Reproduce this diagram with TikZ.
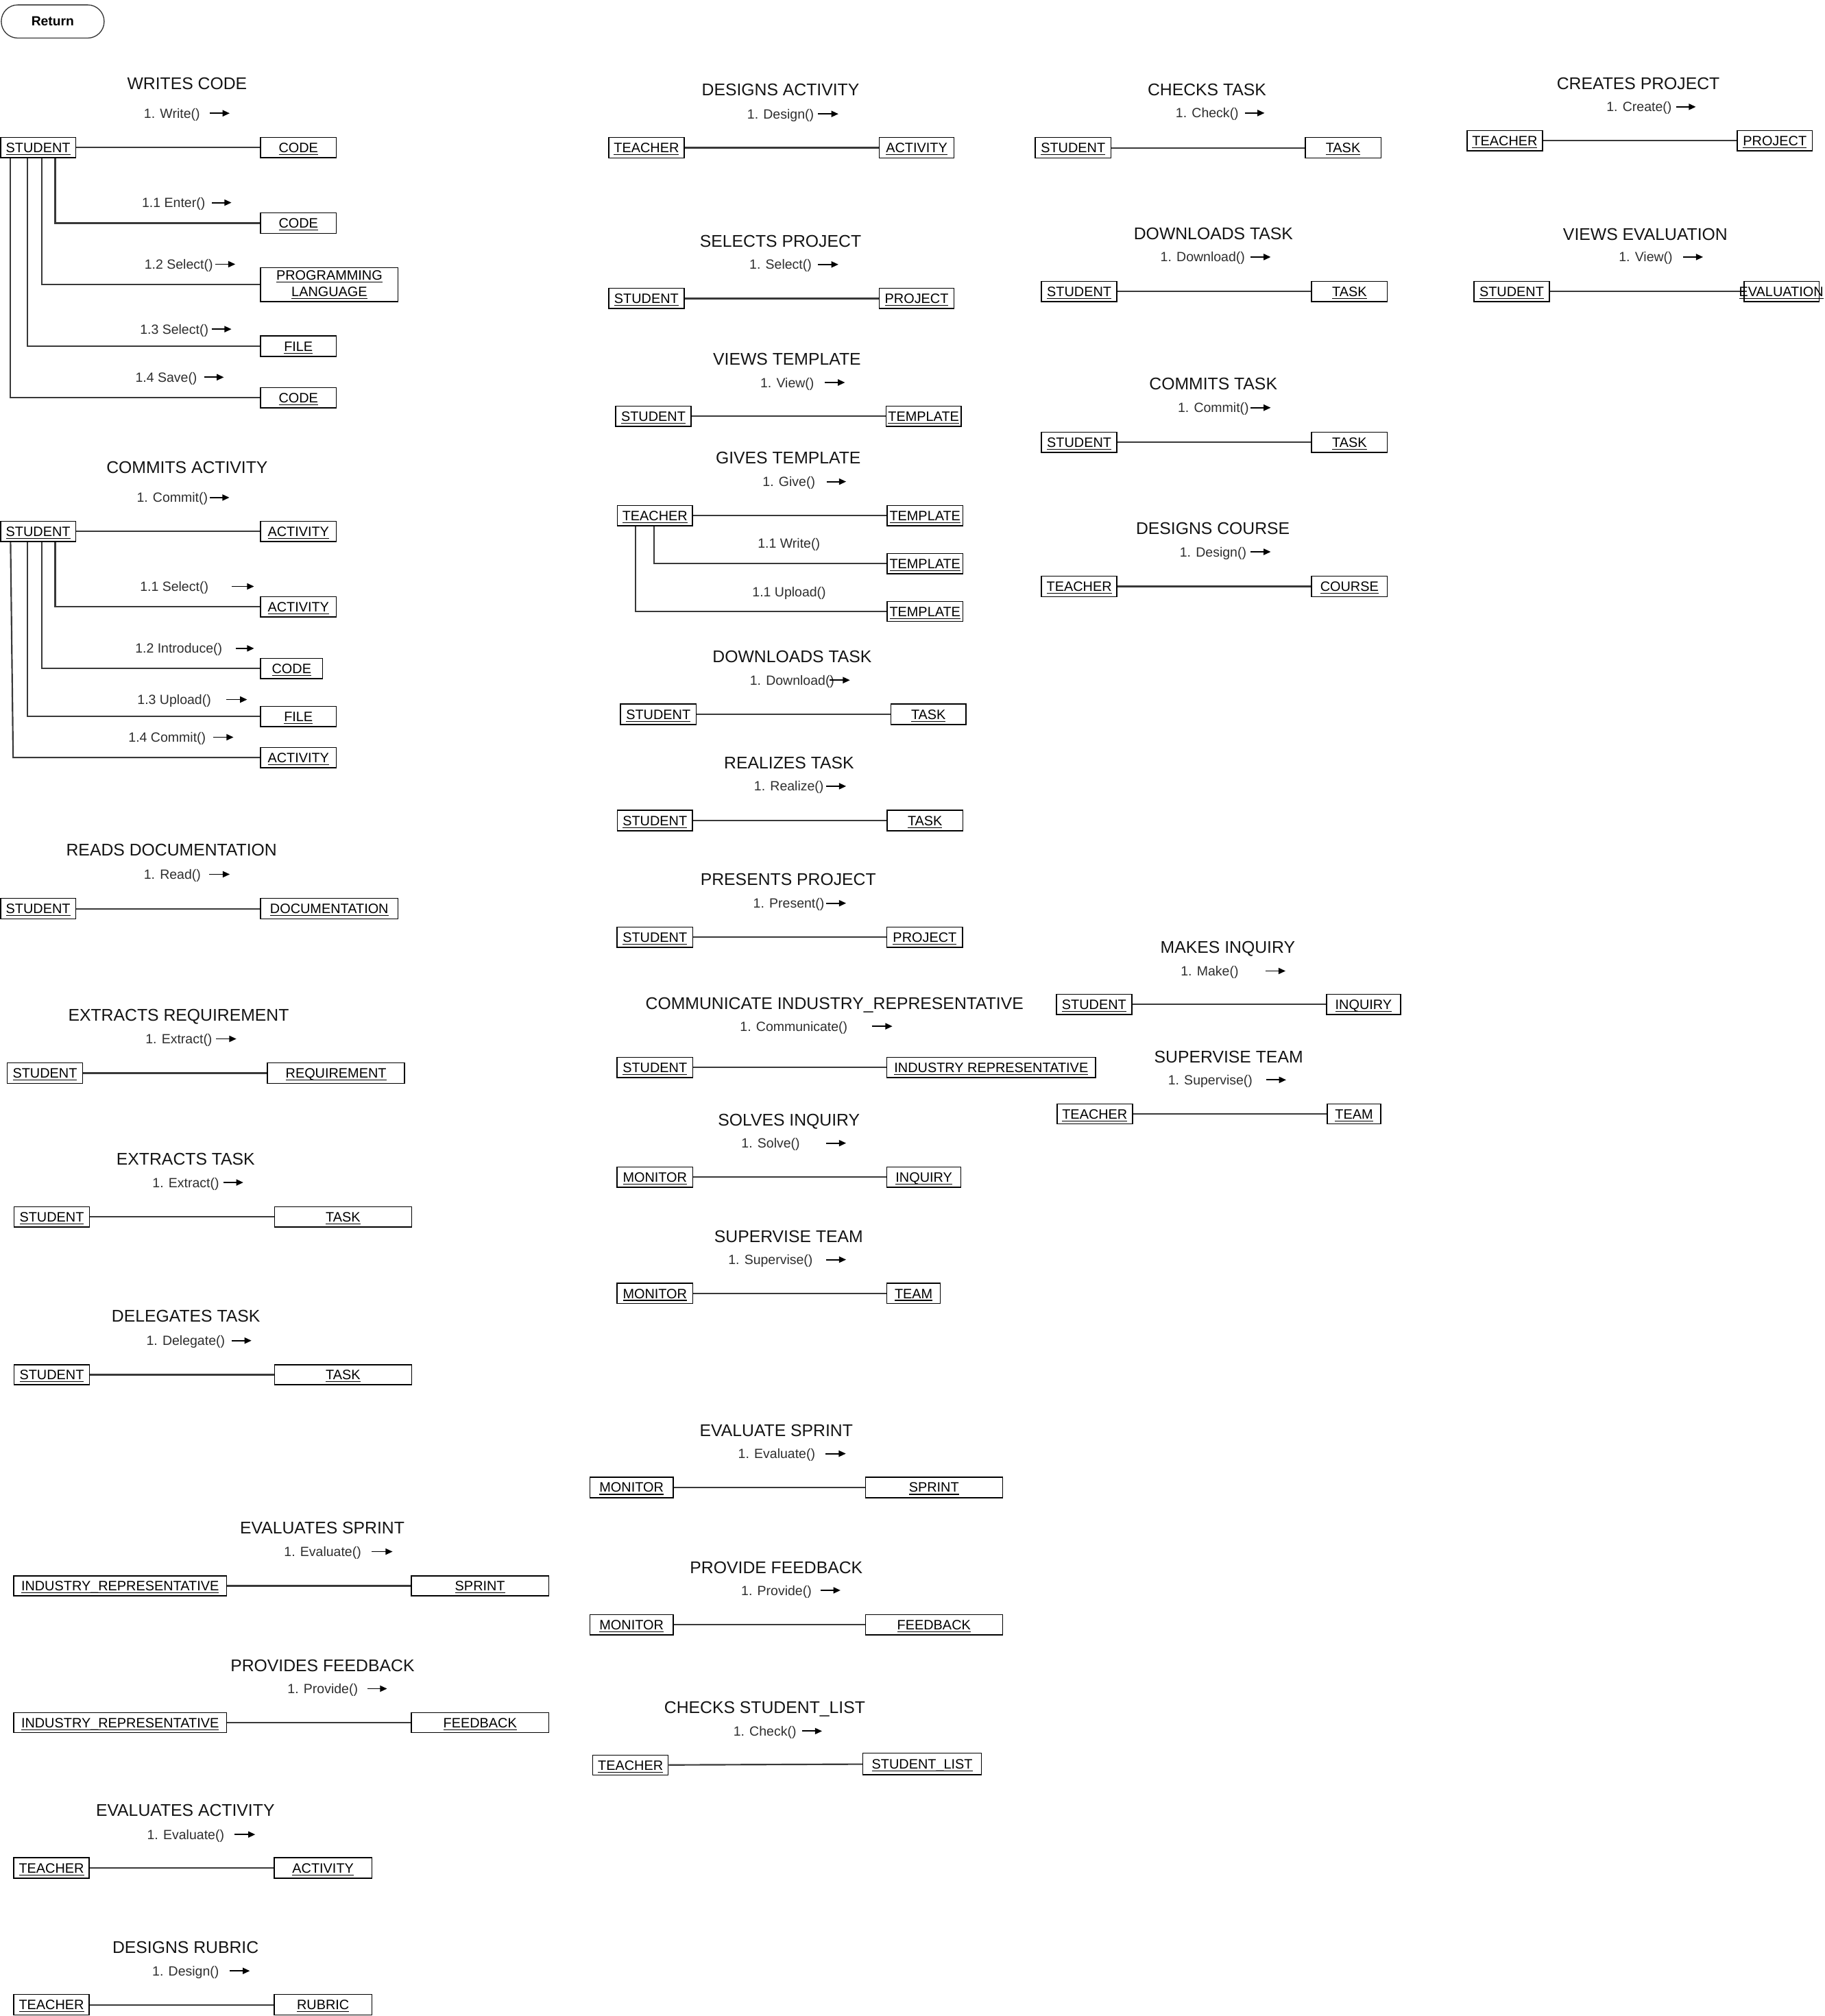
\documentclass[tikz,border=0pt]{standalone}
\usepackage{fontspec}
\setmainfont{Liberation Sans}
\usetikzlibrary{arrows.meta,calc}
\newcommand\ulx[1]{\setbox0=\hbox{#1}\rlap{\rule[-1.9pt]{\wd0}{0.6pt}}\box0}
\newcommand\nfont{\fontsize{10.6}{13}\selectfont}
\newcommand\tfont{\fontsize{13.2}{15}\selectfont}
\newcommand\mfont{\fontsize{10.4}{12}\selectfont}
% object box by corners
\newcommand\obj[6]{\node[objbox, minimum width={#4pt-#2pt}, minimum height={#5pt-#3pt}] (#1) at ({(#2+#4)/2},{(#3+#5)/2}) {\ulx{#6}};}
% title
\newcommand\ttlnode[4]{\node[ttlsty] (#1) at (#2,#3) {#4};}
% message label with arrow
\newcommand\msgl[6]{\node[msgsty] (#1) at (#2,#3) {#4}; \draw[marr] (#5,#3) -- (#6,#3);}
\begin{document}
\begin{tikzpicture}[x=1pt,y=-1pt,
  boxbase/.style={draw=black, line width=0.8pt, inner sep=0pt, font=\nfont, fill=white},
  objbox/.style={boxbase, text height=7.6pt, text depth=0pt},
  conn/.style={line width=1.15pt, draw=black!78},
  ttlsty/.style={font=\tfont, inner sep=0pt, text height=9.4pt, text depth=0pt, text=black!92},
  msgsty/.style={font=\mfont, inner sep=0pt, text height=7.5pt, text depth=0pt, text=black!82},
  marr/.style={line width=1pt, -{Triangle[length=5.5pt,width=4.8pt]}, black}]
\fill[white] (0,0) rectangle (1419,1568);
\useasboundingbox (0,0) rectangle (1419,1568);

% Return button
\node[draw=black!80, line width=0.7pt, rounded corners=12.8pt, minimum width=80pt, minimum height=25.8pt, inner sep=0pt, font=\bfseries\fontsize{10.3}{12}\selectfont] (ret) at (41,16.7) {Return};

% ===== WRITES CODE =====
\ttlnode{wcT}{145.5}{64.7}{WRITES CODE}
\msgl{wcM}{133.7}{88.1}{1. Write()}{163}{178.6}
\obj{wcS}{0.5}{106.9}{58.8}{122.7}{STUDENT}
\obj{wcC0}{202.7}{106.9}{261.4}{122.7}{CODE}
\draw[conn] (wcS) -- (wcC0);
\msgl{wcM1}{135}{157.6}{1.1 Enter()}{165}{180}
\obj{wcC1}{202.7}{165.6}{261.4}{181.5}{CODE}
\draw[conn] ($(wcS.south west)+(42.8,0)$) |- (wcC1.west);
\msgl{wcM2}{139}{205.5}{1.2 Select()}{167.3}{183}
\node[boxbase, align=center, minimum width=106.9pt, minimum height=26.4pt] (wcPL) at (256.15,221.4) {\ulx{PROGRAMMING}\\\ulx{LANGUAGE}};
\draw[conn] ($(wcS.south west)+(32.2,0)$) |- (wcPL.west);
\msgl{wcM3}{135.5}{256}{1.3 Select()}{164.5}{180}
\obj{wcF}{202.7}{261.3}{261.4}{277.3}{FILE}
\draw[conn] ($(wcS.south west)+(21.1,0)$) |- (wcF.west);
\msgl{wcM4}{129.3}{293.4}{1.4 Save()}{158.8}{174.1}
\obj{wcC4}{202.7}{301.4}{261.4}{317.2}{CODE}
\draw[conn] ($(wcS.south west)+(8.1,0)$) |- (wcC4.west);

% ===== COMMITS ACTIVITY =====
\ttlnode{caT}{145.5}{363.4}{COMMITS ACTIVITY}
\msgl{caM}{134}{387}{1. Commit()}{163.3}{178.4}
\obj{caS}{0.5}{405.5}{58.8}{421.3}{STUDENT}
\obj{caA0}{202.7}{405.5}{261.4}{421.3}{ACTIVITY}
\draw[conn] (caS) -- (caA0);
\msgl{caM1}{135.5}{456.1}{1.1 Select()}{180.4}{197.6}
\obj{caA1}{202.7}{464.1}{261.4}{479.8}{ACTIVITY}
\draw[conn] ($(caS.south west)+(42.8,0)$) |- (caA1.west);
\msgl{caM2}{139}{504.3}{1.2 Introduce()}{183.3}{197.6}
\obj{caC}{202.7}{512.1}{250.8}{527.7}{CODE}
\draw[conn] ($(caS.south west)+(32.2,0)$) |- (caC.west);
\msgl{caM3}{135.5}{544.1}{1.3 Upload()}{176}{192.2}
\obj{caF}{202.7}{549.4}{261.4}{565.1}{FILE}
\draw[conn] ($(caS.south west)+(21.1,0)$) |- (caF.west);
\msgl{caM4}{130}{573.4}{1.4 Commit()}{165.7}{181.6}
\obj{caA4}{202.7}{581.4}{261.4}{597}{ACTIVITY}
\draw[conn] ($(caS.south west)+(8.1,0)$) -- ($(caA4.west)+(-192.1,0)$) -- (caA4.west);

% ===== READS DOCUMENTATION =====
\ttlnode{rdT}{133.4}{661.1}{READS DOCUMENTATION}
\msgl{rdM}{134}{680}{1. Read()}{162.7}{178.7}
\obj{rdS}{0.5}{698.8}{58.8}{714.7}{STUDENT}
\obj{rdD}{202.7}{698.8}{309.4}{714.7}{DOCUMENTATION}
\draw[conn] (rdS) -- (rdD);

% ===== EXTRACTS REQUIREMENT =====
\ttlnode{erT}{138.9}{789.6}{EXTRACTS REQUIREMENT}
\msgl{erM}{139.1}{808}{1. Extract()}{168.2}{183.8}
\obj{erS}{5.5}{826.7}{64.3}{842.6}{STUDENT}
\obj{erR}{208}{826.7}{314.6}{842.6}{REQUIREMENT}
\draw[conn] (erS) -- (erR);

% ===== EXTRACTS TASK =====
\ttlnode{etT}{144.4}{901.3}{EXTRACTS TASK}
\msgl{etM}{144.5}{919.7}{1. Extract()}{173.7}{189.2}
\obj{etS}{11}{938.7}{69.5}{954.3}{STUDENT}
\obj{etK}{213.5}{938.7}{320.1}{954.3}{TASK}
\draw[conn] (etS) -- (etK);

% ===== DELEGATES TASK =====
\ttlnode{dtT}{144.6}{1023.7}{DELEGATES TASK}
\msgl{dtM}{144.4}{1042.7}{1. Delegate()}{180.2}{195.6}
\obj{dtS}{11}{1061.4}{69.5}{1077}{STUDENT}
\obj{dtK}{213.5}{1061.4}{320.1}{1077}{TASK}
\draw[conn] (dtS) -- (dtK);

% ===== EVALUATES SPRINT =====
\ttlnode{esT}{250.6}{1188.3}{EVALUATES SPRINT}
\msgl{esM}{250.9}{1206.8}{1. Evaluate()}{289}{305.3}
\obj{esI}{10.6}{1225.6}{176.2}{1241.2}{INDUSTRY\_REPRESENTATIVE}
\obj{esP}{319.8}{1225.6}{426.8}{1241.2}{SPRINT}
\draw[conn] (esI) -- (esP);

% ===== PROVIDES FEEDBACK =====
\ttlnode{pfT}{250.8}{1295.2}{PROVIDES FEEDBACK}
\msgl{pfM}{251}{1313.4}{1. Provide()}{285.7}{301}
\obj{pfI}{10.6}{1332}{176.2}{1347.6}{INDUSTRY\_REPRESENTATIVE}
\obj{pfF}{319.8}{1332}{426.8}{1347.6}{FEEDBACK}
\draw[conn] (pfI) -- (pfF);

% ===== EVALUATES ACTIVITY =====
\ttlnode{eaT}{144.1}{1408}{EVALUATES ACTIVITY}
\msgl{eaM}{144.4}{1426.8}{1. Evaluate()}{182.6}{198.5}
\obj{eaT2}{10.6}{1444.8}{69.4}{1460.9}{TEACHER}
\obj{eaA}{213.3}{1444.8}{289.1}{1460.9}{ACTIVITY}
\draw[conn] (eaT2) -- (eaA);

% ===== DESIGNS RUBRIC =====
\ttlnode{drT}{144.3}{1514.6}{DESIGNS RUBRIC}
\msgl{drM}{144.4}{1532.9}{1. Design()}{178.7}{194.3}
\obj{drT2}{10.6}{1551.2}{69.4}{1567.3}{TEACHER}
\obj{drR}{213.3}{1551.2}{289.1}{1567.3}{RUBRIC}
\draw[conn] (drT2) -- (drR);

% ===== MIDDLE COLUMN =====
\ttlnode{daT}{607}{69.9}{DESIGNS ACTIVITY}
\msgl{daM}{607}{88.6}{1. Design()}{636}{652}
\obj{daT2}{473.4}{107}{532}{122.8}{TEACHER}
\obj{daA}{683.7}{107}{742}{122.8}{ACTIVITY}
\draw[conn] (daT2) -- (daA);

\ttlnode{spT}{607}{187.4}{SELECTS PROJECT}
\msgl{spM}{607}{205.7}{1. Select()}{636}{652}
\obj{spS}{473.4}{224.3}{532}{240}{STUDENT}
\obj{spP}{683.7}{224.3}{742}{240}{PROJECT}
\draw[conn] (spS) -- (spP);

\ttlnode{vtT}{612}{279.2}{VIEWS TEMPLATE}
\msgl{vtM}{612.2}{297.5}{1. View()}{641.3}{657.1}
\obj{vtS}{478.8}{315.9}{537.4}{331.5}{STUDENT}
\obj{vtP}{689}{315.9}{747.5}{331.5}{TEMPLATE}
\draw[conn] (vtS) -- (vtP);

\ttlnode{gtT}{613}{356.2}{GIVES TEMPLATE}
\msgl{gtM}{613.5}{374.6}{1. Give()}{642.8}{658}
\obj{gtT2}{480}{393.3}{538.6}{408.8}{TEACHER}
\obj{gtP1}{690}{393.3}{748.7}{408.8}{TEMPLATE}
\draw[conn] (gtT2) -- (gtP1);
\node[msgsty] (gtM1) at (613.5,422.5) {1.1 Write()};
\obj{gtP2}{690}{430.6}{748.7}{446.3}{TEMPLATE}
\draw[conn] ($(gtT2.south west)+(29,0)$) |- (gtP2.west);
\node[msgsty] (gtM2) at (613.7,460.2) {1.1 Upload()};
\obj{gtP3}{690}{467.8}{748.7}{483.3}{TEMPLATE}
\draw[conn] ($(gtT2.south west)+(14.7,0)$) |- (gtP3.west);

\ttlnode{dmT}{616}{510.6}{DOWNLOADS TASK}
\msgl{dmM}{616}{529}{1. Download()}{645}{661}
\obj{dmS}{482.6}{547.5}{541.3}{563.6}{STUDENT}
\obj{dmK}{692.7}{547.5}{751.3}{563.6}{TASK}
\draw[conn] (dmS) -- (dmK);

\ttlnode{rtT}{613.6}{593.2}{REALIZES TASK}
\msgl{rtM}{613.5}{611.5}{1. Realize()}{642.4}{658}
\obj{rtS}{480}{630.3}{538.6}{646.2}{STUDENT}
\obj{rtK}{690}{630.3}{748.7}{646.2}{TASK}
\draw[conn] (rtS) -- (rtK);

\ttlnode{ppT}{613}{684}{PRESENTS PROJECT}
\msgl{ppM}{613.4}{702.5}{1. Present()}{642.6}{658}
\obj{ppS}{479.8}{721}{538.8}{736.8}{STUDENT}
\obj{ppP}{689.7}{721}{748.6}{736.8}{PROJECT}
\draw[conn] (ppS) -- (ppP);

\ttlnode{ciT}{649}{780.3}{COMMUNICATE INDUSTRY\_REPRESENTATIVE}
\msgl{ciM}{617.3}{798.2}{1. Communicate()}{678}{694}
\obj{ciS}{479.8}{822.5}{538.8}{838}{STUDENT}
\obj{ciI}{689.7}{822.5}{852}{838}{INDUSTRY REPRESENTATIVE}
\draw[conn] (ciS) -- (ciI);

\ttlnode{siT}{613.5}{870.9}{SOLVES INQUIRY}
\msgl{siM}{599.3}{889.1}{1. Solve()}{642.4}{658}
\obj{siM2}{479.8}{907.6}{538.8}{923.4}{MONITOR}
\obj{siQ}{689.7}{907.6}{747.3}{923.4}{INQUIRY}
\draw[conn] (siM2) -- (siQ);

\ttlnode{smT}{613.3}{961.4}{SUPERVISE TEAM}
\msgl{smM}{599.2}{979.7}{1. Supervise()}{642.4}{658}
\obj{smM2}{479.8}{998.1}{538.8}{1013.9}{MONITOR}
\obj{smE}{689.7}{998.1}{731.3}{1013.9}{TEAM}
\draw[conn] (smM2) -- (smE);

\ttlnode{evT}{603.7}{1112.3}{EVALUATE SPRINT}
\msgl{evM}{604}{1130.6}{1. Evaluate()}{642}{657.8}
\obj{evM2}{458.7}{1148.8}{523.5}{1164.9}{MONITOR}
\obj{evP}{673}{1148.8}{779.6}{1164.9}{SPRINT}
\draw[conn] (evM2) -- (evP);

\ttlnode{pvT}{603.7}{1219}{PROVIDE FEEDBACK}
\msgl{pvM}{603.8}{1236.9}{1. Provide()}{638.4}{653.6}
\obj{pvM2}{458.7}{1255.7}{523.5}{1271.6}{MONITOR}
\obj{pvF}{673}{1255.7}{779.6}{1271.6}{FEEDBACK}
\draw[conn] (pvM2) -- (pvF);

\ttlnode{csT}{594.7}{1328.1}{CHECKS STUDENT\_LIST}
\msgl{csM}{594.8}{1346.4}{1. Check()}{623.6}{639.3}
\obj{csT2}{461}{1365}{519.6}{1380.7}{TEACHER}
\obj{csL}{671}{1363.6}{763.3}{1380.2}{STUDENT\_LIST}
\draw[conn] (csT2) -- (csL);

% ===== RIGHT COLUMN =====
\ttlnode{ctT}{938.6}{69.6}{CHECKS TASK}
\msgl{ctM}{938.8}{87.9}{1. Check()}{968}{983.4}
\obj{ctS}{805}{106.9}{864}{123}{STUDENT}
\obj{ctK}{1015}{106.9}{1073.9}{123}{TASK}
\draw[conn] (ctS) -- (ctK);

\ttlnode{drtT}{943.6}{181.7}{DOWNLOADS TASK}
\msgl{drtM}{935.3}{199.9}{1. Download()}{972.6}{988.2}
\obj{drtS}{809.9}{218.9}{868.6}{234.7}{STUDENT}
\obj{drtK}{1020}{218.9}{1078.8}{234.7}{TASK}
\draw[conn] (drtS) -- (drtK);

\ttlnode{cmT}{943.5}{298.6}{COMMITS TASK}
\msgl{cmM}{943.6}{317.1}{1. Commit()}{972.6}{988.2}
\obj{cmS}{809.9}{336.2}{868.6}{352}{STUDENT}
\obj{cmK}{1020}{336.2}{1078.8}{352}{TASK}
\draw[conn] (cmS) -- (cmK);

\ttlnode{dcT}{943.2}{411}{DESIGNS COURSE}
\msgl{dcM}{943.4}{429.2}{1. Design()}{972.6}{988.2}
\obj{dcT2}{809.9}{448.2}{868.6}{464}{TEACHER}
\obj{dcC}{1020}{448.2}{1078.8}{464}{COURSE}
\draw[conn] (dcT2) -- (dcC);

\ttlnode{miT}{954.8}{736.5}{MAKES INQUIRY}
\msgl{miM}{940.7}{755.2}{1. Make()}{984}{999.7}
\obj{miS}{821.6}{773.3}{880.1}{789.1}{STUDENT}
\obj{miQ}{1031.6}{773.3}{1089.2}{789.1}{INQUIRY}
\draw[conn] (miS) -- (miQ);

\ttlnode{stT}{955.5}{821.8}{SUPERVISE TEAM}
\msgl{stM}{941.2}{839.9}{1. Supervise()}{984.6}{1000.2}
\obj{stT2}{822}{858.6}{880.7}{874.2}{TEACHER}
\obj{stE}{1032.2}{858.6}{1073.7}{874.2}{TEAM}
\draw[conn] (stT2) -- (stE);

% ===== FAR RIGHT COLUMN =====
\ttlnode{cpT}{1274}{64.8}{CREATES PROJECT}
\msgl{cpM}{1274.7}{83.1}{1. Create()}{1303.6}{1318.8}
\obj{cpT2}{1141}{101.6}{1199.5}{117.4}{TEACHER}
\obj{cpP}{1350.9}{101.6}{1409.5}{117.4}{PROJECT}
\draw[conn] (cpT2) -- (cpP);

\ttlnode{veT}{1279.5}{182.1}{VIEWS EVALUATION}
\msgl{veM}{1279.8}{199.9}{1. View()}{1309}{1324.4}
\obj{veS}{1146.3}{218.9}{1204.9}{234.5}{STUDENT}
\node[objbox, minimum width=58.6pt, minimum height=15.6pt, fill=none] (veE) at (1385.5,226.7) {};
\draw[conn] (veS) -- (veE);
\node[font=\nfont, inner sep=0pt, text height=7.6pt, text depth=0pt] (veEt) at (1385.2,226.7) {\ulx{EVALUATION}};
\end{tikzpicture}
\end{document}
